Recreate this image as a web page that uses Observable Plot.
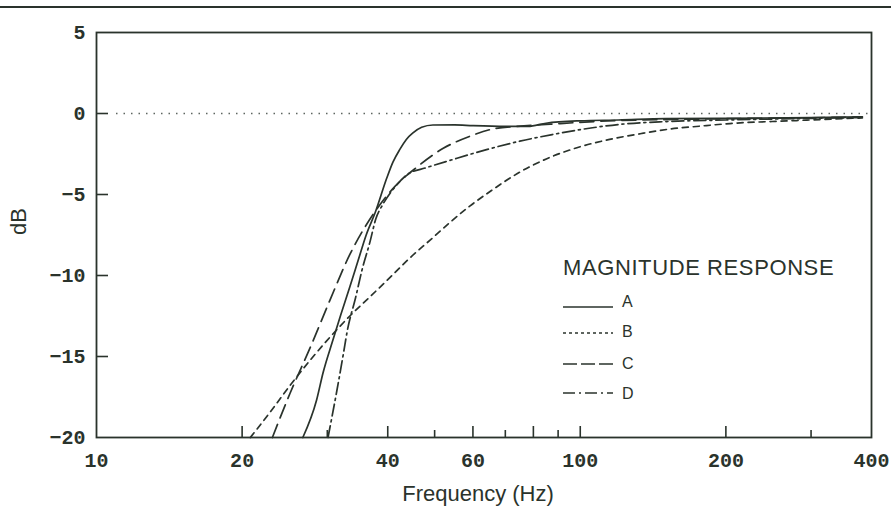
<!DOCTYPE html>
<html>
<head>
<meta charset="utf-8">
<script src="https://cdn.jsdelivr.net/npm/d3@7"></script>
<script src="https://cdn.jsdelivr.net/npm/@observablehq/plot@0.6"></script>
<style>
  html, body { margin: 0; padding: 0; background: #fff; }
  #wrap { position: relative; width: 891px; height: 521px; overflow: hidden; }
  #rule { position: absolute; left: 0; top: 6px; width: 891px; height: 2px; background: #2a332c; }
  #legend { position: absolute; left: 0; top: 0; pointer-events: none; }
</style>
</head>
<body>
<div id="wrap">
  <div id="rule"></div>
</div>
<script>
// ---- data ----
const seriesNames = ["A", "B", "C", "D"];

const freqA = [26.7, 28.5, 29.4, 30.8, 32.0, 33.4, 34.8, 36.1, 37.7, 39.8, 41.0, 42.4, 43.7, 45.1, 47.0, 49.6, 55, 60, 70, 78, 85, 100, 120, 150, 200, 300, 383];
const dbA   = [-20, -17.7, -16.0, -14.0, -12.4, -10.7, -9.0, -7.5, -6.1, -4.0, -3.0, -2.2, -1.6, -1.2, -0.85, -0.71, -0.7, -0.75, -0.8, -0.8, -0.6, -0.45, -0.4, -0.32, -0.3, -0.25, -0.2];

const freqB = [20.8, 22.9, 25.1, 27.7, 30.4, 33.4, 36.8, 40.5, 44.5, 49.0, 53.9, 59.2, 65.2, 75.2, 86.7, 100, 115, 133, 154, 177, 204, 272, 383];
const dbB   = [-20, -18.4, -16.8, -15.2, -13.8, -12.5, -11.3, -10.1, -8.9, -7.8, -6.7, -5.7, -4.8, -3.6, -2.7, -2.05, -1.6, -1.25, -0.95, -0.78, -0.62, -0.45, -0.27];

const freqC = [23.1, 25.1, 27.7, 30.4, 33.4, 35.9, 38.6, 41.4, 46.0, 52.1, 59.2, 66.1, 75.2, 90.9, 110, 146, 204, 285, 383];
const dbC   = [-20, -17.3, -14.4, -11.5, -8.7, -7.0, -5.6, -4.5, -3.3, -2.15, -1.4, -0.95, -0.78, -0.62, -0.48, -0.38, -0.32, -0.27, -0.22];

const freqD = [30.1, 31.4, 32.4, 33.0, 34.3, 35.5, 36.7, 37.8, 39.1, 41.5, 44.0, 48.0, 54.4, 64, 75, 87.5, 106, 120, 150, 200, 300, 383];
const dbD   = [-20, -17.1, -14.8, -13.4, -11.4, -9.5, -8.0, -6.5, -5.6, -4.5, -3.75, -3.35, -2.85, -2.23, -1.71, -1.3, -0.88, -0.68, -0.5, -0.4, -0.3, -0.25];

const xLabelTicks = [10, 20, 40, 60, 80, 100, 200, 400];
const xMajorTicks = [20, 40, 60, 80, 100, 200];
const xMinorTicks = [30, 50, 70, 90, 300];
const yLabelTicks = [5, 0, -5, -10, -15, -20];
const yTickMarks  = [0, -5, -10, -15];
const refLevel = [0];

const titleText = "MAGNITUDE RESPONSE";
const xLabel = "Frequency (Hz)";
const yLabel = "dB";

// ---- build table ----
const freqs = [freqA, freqB, freqC, freqD];
const dbs = [dbA, dbB, dbC, dbD];
const rows = [];
seriesNames.forEach((s, i) => freqs[i].forEach((f, j) => rows.push({series: s, f, db: dbs[i][j]})));

const ink = "#2a332c";
const dashes = {A: null, B: "6,5", C: "14,7", D: "12,4,2,4"};

const W = 891, H = 521, mL = 96, mR = 20, mT = 32, mB = 84;
const frameW = W - mL - mR, frameH = H - mT - mB;

const marks = [
  Plot.ruleY(refLevel, {stroke: ink, strokeWidth: 1.3, strokeDasharray: "1.5,6", strokeOpacity: 0.75, insetLeft: 20}),
];
seriesNames.forEach(s => {
  marks.push(Plot.line(rows.filter(r => r.series === s), {
    x: "f", y: "db", stroke: ink, strokeWidth: 1.7, curve: "monotone-x",
    strokeDasharray: dashes[s] || undefined
  }));
});
marks.push(
  Plot.frame({stroke: ink, strokeWidth: 1.8}),
  Plot.ruleX(xMajorTicks, {x: d => d, stroke: ink, strokeWidth: 1.6, insetTop: frameH - 11}),
  Plot.ruleX(xMinorTicks, {x: d => d, stroke: ink, strokeWidth: 1.6, insetTop: frameH - 7}),
  Plot.ruleY(yTickMarks, {y: d => d, stroke: ink, strokeWidth: 1.6, insetRight: frameW - 12}),
  Plot.axisX({ticks: xLabelTicks, tickSize: 0, tickPadding: 15, tickFormat: d => String(d), label: null,
              fontFamily: "Liberation Mono", fontSize: 20, fontWeight: "bold", fill: ink}),
  Plot.axisY({ticks: yLabelTicks, tickSize: 0, tickPadding: 11, label: null,
              tickFormat: d => (d < 0 ? "−" + Math.abs(d) : String(d)),
              fontFamily: "Liberation Mono", fontSize: 20, fontWeight: "bold", fill: ink}),
  Plot.text([xLabel], {text: d => d, frameAnchor: "bottom", dy: 63, dx: -6,
              fontFamily: "Liberation Sans", fontSize: 22, fill: ink}),
  Plot.text([yLabel], {text: d => d, frameAnchor: "left", dx: -78, rotate: -90,
              fontFamily: "Liberation Sans", fontSize: 22, fill: ink})
);

const chart = Plot.plot({
  width: W, height: H,
  marginLeft: mL, marginRight: mR, marginTop: mT, marginBottom: mB,
  x: {type: "log", domain: [10, 400]},
  y: {domain: [-20, 5]},
  style: {background: "transparent", color: ink},
  marks
});
const wrap = document.getElementById("wrap");
wrap.insertBefore(chart, wrap.firstChild);

// ---- legend (overlay) ----
const ns = "http://www.w3.org/2000/svg";
const lg = document.createElementNS(ns, "svg");
lg.setAttribute("id", "legend");
lg.setAttribute("width", W);
lg.setAttribute("height", H);
const t = document.createElementNS(ns, "text");
t.setAttribute("x", 563); t.setAttribute("y", 275);
t.setAttribute("font-family", "Liberation Sans"); t.setAttribute("font-size", 22);
t.setAttribute("letter-spacing", "0.6"); t.setAttribute("fill", ink);
t.textContent = titleText;
lg.appendChild(t);
const lineY = [307, 333, 364, 393];
const textY = [307, 337, 369, 399];
seriesNames.forEach((s, i) => {
  const l = document.createElementNS(ns, "line");
  l.setAttribute("x1", 563); l.setAttribute("x2", 613);
  l.setAttribute("y1", lineY[i]); l.setAttribute("y2", lineY[i]);
  l.setAttribute("stroke", ink); l.setAttribute("stroke-width", 1.6);
  const legDash = {A: null, B: "3,3", C: "14,4", D: "12,4,2,4"}[s];
  if (legDash) l.setAttribute("stroke-dasharray", legDash);
  lg.appendChild(l);
  const tx = document.createElementNS(ns, "text");
  tx.setAttribute("x", 622); tx.setAttribute("y", textY[i]);
  tx.setAttribute("font-family", "Liberation Sans"); tx.setAttribute("font-size", 16);
  tx.setAttribute("fill", ink);
  tx.textContent = s;
  lg.appendChild(tx);
});
wrap.appendChild(lg);
</script>
</body>
</html>
